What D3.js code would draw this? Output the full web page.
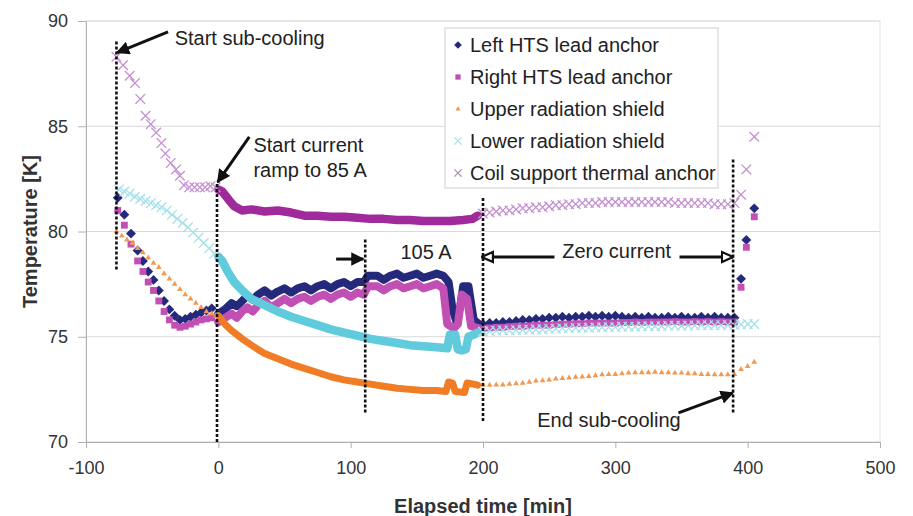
<!DOCTYPE html>
<html>
<head>
<meta charset="utf-8">
<script src="https://cdn.jsdelivr.net/npm/d3@7"></script>
<style>
  body { margin: 0; background: #fff; }
  svg { font-family: "Liberation Sans", Arial, sans-serif; }
  .axis text { font-size: 18px; fill: #333; }
  .axis path, .axis line { stroke: #b0b0b0; }
</style>
</head>
<body>
<svg width="913" height="516"></svg>
<script>
// series names and colours (Excel order)
var seriesNames = ["Left HTS lead anchor", "Right HTS lead anchor", "Upper radiation shield",
                   "Lower radiation shield", "Coil support thermal anchor"];
var seriesColors = ["#25297c", "#c14fb4", "#f07d26", "#5fcbdc", "#a02a9c"];
var lightColors  = ["#25297c", "#c14fb4", "#f39a52", "#a6e1ea", "#c590d0"];

var xTicks = [-100, 0, 100, 200, 300, 400, 500];
var yTicks = [70, 75, 80, 85, 90];

// [time min, temperature K]
// sub-cooling before current (sparse markers)
var leftPre = [[-76,81.6],[-71,80.8],[-66,79.9],[-61,79.1],[-57,78.6],[-53,78.1],[-49,77.7],[-45,77.2],
  [-41,76.7],[-37,76.3],[-33,76.0],[-29,75.8],[-25,75.85],[-21,75.95],[-17,76.05],[-13,76.15],[-9,76.25],[-5,76.35]];
var rightPre = [[-76,81.0],[-71,80.3],[-66,79.4],[-61,78.6],[-57,78.1],[-53,77.6],[-49,77.2],[-45,76.7],
  [-41,76.2],[-37,75.8],[-33,75.55],[-29,75.45],[-25,75.5],[-21,75.6],[-17,75.7],[-13,75.8],[-9,75.85],[-5,75.9]];
var upperPre = [[-77,80.0],[-73,79.8],[-69,79.6],[-65,79.45],[-61,79.2],[-57,79.0],[-53,78.75],[-49,78.5],
  [-45,78.3],[-41,78.0],[-37,77.75],[-33,77.5],[-29,77.25],[-25,77.0],[-21,76.8],[-17,76.6],[-13,76.4],[-9,76.2],[-5,76.1],[-2,76.0]];
var lowerPre = [[-75,82.0],[-71,81.9],[-67,81.8],[-63,81.65],[-59,81.55],[-55,81.45],[-51,81.35],[-47,81.25],
  [-43,81.15],[-39,81.0],[-35,80.8],[-31,80.6],[-27,80.4],[-23,80.2],[-19,79.95],[-15,79.7],[-11,79.45],[-7,79.2],[-3,78.95]];
var coilPre = [[-77,88.3],[-72,87.9],[-67,87.4],[-63,87.05],[-59,86.3],[-55,85.5],[-51,85.1],[-47,84.7],
  [-43,84.2],[-40,83.7],[-36,83.25],[-32,82.95],[-29,82.65],[-26,82.2],[-22,82.1],[-18,82.1],[-14,82.1],
  [-10,82.1],[-6,82.15],[-2,82.1]];

// current ramp period (dense logging)
var leftRamp = [[0,76.1],[5,76.3],[10,76.6],[14,76.45],[18,76.7],[22,76.95],[26,76.75],[30,77.0],[35,77.2],
  [40,76.95],[45,77.15],[50,77.3],[55,77.1],[60,77.3],[65,77.4],[70,77.2],[75,77.4],[80,77.5],[85,77.3],
  [90,77.5],[95,77.6],[100,77.4],[105,77.6],[110,77.6],[113,77.9],[120,77.9],[125,77.7],[130,77.9],
  [135,78.0],[140,77.8],[145,77.9],[150,78.0],[155,77.8],[160,77.9],[165,78.0],[170,77.9],[174,77.6],
  [177,76.3],[180,75.7],[183,76.5],[185,77.4],[189,77.4],[191,76.6],[193,75.8],[197,75.6]];
var rightRamp = [[0,75.7],[5,75.9],[10,76.1],[14,75.9],[18,76.2],[22,76.4],[26,76.2],[30,76.5],[35,76.7],
  [40,76.4],[45,76.6],[50,76.8],[55,76.6],[60,76.8],[65,76.9],[70,76.7],[75,76.9],[80,77.0],[85,76.8],
  [90,77.0],[95,77.1],[100,76.9],[105,77.1],[110,77.0],[113,77.4],[120,77.4],[125,77.2],[130,77.4],
  [135,77.5],[140,77.3],[145,77.4],[150,77.5],[155,77.3],[160,77.4],[165,77.5],[170,77.3],[173,75.6],
  [178,75.4],[181,75.6],[184,77.0],[188,76.8],[191,75.5],[197,75.4]];
var upperRamp = [[0,76.0],[5,75.6],[10,75.3],[18,74.9],[25,74.6],[35,74.2],[45,73.95],[55,73.7],[65,73.5],
  [75,73.3],[85,73.1],[95,72.95],[105,72.85],[115,72.75],[125,72.65],[135,72.55],[145,72.5],[155,72.45],
  [165,72.45],[172,72.4],[174,72.85],[177,72.8],[179,72.4],[186,72.35],[188,72.8],[193,72.75],[196,72.7]];
var lowerRamp = [[0,78.8],[3,78.6],[7,78.1],[12,77.6],[18,77.2],[25,76.8],[35,76.5],[45,76.2],[55,75.95],
  [65,75.75],[75,75.55],[85,75.35],[95,75.2],[105,75.05],[115,74.9],[125,74.8],[135,74.7],[145,74.6],
  [155,74.55],[165,74.5],[173,74.45],[175,75.1],[179,75.1],[181,74.4],[184,74.35],[187,74.4],[189,75.0],
  [193,75.1],[196,75.2]];
var coilRamp = [[0,82.0],[3,81.9],[8,81.5],[12,81.2],[18,81.0],[25,81.05],[35,80.95],[45,81.0],[55,80.9],
  [65,80.75],[75,80.75],[85,80.7],[95,80.7],[105,80.65],[115,80.6],[125,80.6],[135,80.55],[145,80.55],
  [155,80.5],[165,80.5],[175,80.5],[185,80.55],[192,80.6],[196,80.75]];

// zero current and end of sub-cooling (sparse markers)
var leftPost = [[200,75.6],[205,75.65],[210,75.65],[215,75.7],[220,75.7],[225,75.75],[230,75.8],[235,75.8],
  [240,75.85],[245,75.85],[250,75.9],[255,75.9],[260,75.95],[265,75.9],[270,75.95],[275,75.95],[280,76.0],
  [285,75.95],[290,76.0],[295,75.95],[300,76.0],[305,75.95],[310,75.9],[315,75.95],[320,75.9],[325,75.95],
  [330,75.9],[335,75.9],[340,75.95],[345,75.9],[350,75.95],[355,75.9],[360,75.9],[365,75.95],[370,75.9],
  [375,75.95],[380,75.9],[385,75.9],[390,75.9],[395,77.75],[399,79.6],[405,81.1]];
var rightPost = [[200,75.4],[205,75.42],[210,75.45],[215,75.45],[220,75.48],[225,75.5],[230,75.5],[235,75.52],
  [240,75.55],[245,75.55],[250,75.55],[255,75.58],[260,75.6],[265,75.6],[270,75.62],[275,75.62],[280,75.65],
  [285,75.65],[290,75.65],[295,75.65],[300,75.65],[305,75.68],[310,75.68],[315,75.7],[320,75.68],[325,75.7],
  [330,75.7],[335,75.7],[340,75.7],[345,75.72],[350,75.7],[355,75.7],[360,75.72],[365,75.7],[370,75.72],
  [375,75.7],[380,75.72],[385,75.7],[390,75.7],[395,77.35],[399,79.25],[405,80.7]];
var upperPost = [[200,72.7],[205,72.7],[210,72.72],[215,72.72],[220,72.75],[225,72.78],[230,72.8],[235,72.85],
  [240,72.9],[245,72.92],[250,72.95],[255,73.0],[260,73.02],[265,73.05],[270,73.08],[275,73.1],[280,73.12],
  [285,73.15],[290,73.2],[295,73.22],[300,73.22],[305,73.25],[310,73.28],[315,73.3],[320,73.3],[325,73.3],
  [330,73.32],[335,73.3],[340,73.3],[345,73.28],[350,73.28],[355,73.25],[360,73.25],[365,73.22],[370,73.22],
  [375,73.2],[380,73.2],[385,73.2],[390,73.22],[395,73.45],[400,73.6],[405,73.8]];
var lowerPost = [[200,75.25],[205,75.27],[210,75.28],[215,75.3],[220,75.3],[225,75.32],[230,75.33],[235,75.33],
  [240,75.35],[245,75.35],[250,75.37],[255,75.38],[260,75.4],[265,75.4],[270,75.42],[275,75.42],[280,75.43],
  [285,75.44],[290,75.45],[295,75.45],[300,75.46],[305,75.47],[310,75.48],[315,75.48],[320,75.5],[325,75.5],
  [330,75.5],[335,75.5],[340,75.52],[345,75.52],[350,75.52],[355,75.53],[360,75.53],[365,75.55],[370,75.55],
  [375,75.55],[380,75.55],[385,75.56],[390,75.56],[395,75.58],[400,75.6],[405,75.6]];
var coilPost = [[200,80.85],[205,80.9],[210,80.95],[215,81.0],[220,81.0],[225,81.05],[230,81.1],[235,81.1],
  [240,81.15],[245,81.15],[250,81.2],[255,81.25],[260,81.25],[265,81.3],[270,81.3],[275,81.35],[280,81.35],
  [285,81.35],[290,81.4],[295,81.4],[300,81.4],[305,81.4],[310,81.4],[315,81.4],[320,81.4],[325,81.4],
  [330,81.4],[335,81.4],[340,81.4],[345,81.35],[350,81.35],[355,81.35],[360,81.35],[365,81.35],[370,81.35],
  [375,81.3],[380,81.3],[385,81.3],[390,81.35],[395,81.75],[399,82.95],[405,84.5]];

// annotation lines [time, from K, to K]
var eventLines = [[-77, 78.2, 89.1], [-1, 70.0, 82.3], [111, 71.4, 79.7], [200, 71.0, 81.6], [389, 71.4, 83.5]];

var svg = d3.select("svg"),
  margin = {top: 21, right: 33, bottom: 74, left: 86},
  width = svg.attr("width") - margin.left - margin.right,
  height = svg.attr("height") - margin.top - margin.bottom,
  g = svg.append("g").attr("transform", "translate(" + margin.left + "," + margin.top + ")");

var x = d3.scaleLinear().domain([-100, 500]).range([0, width]),
  y = d3.scaleLinear().domain([70, 90]).range([height, 0]);

var defs = svg.append("defs");
defs.append("marker").attr("id", "headFill")
  .attr("viewBox", "0 0 10 10").attr("refX", 9).attr("refY", 5)
  .attr("markerWidth", 4.5).attr("markerHeight", 4.5).attr("orient", "auto")
  .append("path").attr("d", "M0,0L10,5L0,10z").attr("fill", "#111");
defs.append("marker").attr("id", "headOpen")
  .attr("viewBox", "0 0 12 12").attr("refX", 11).attr("refY", 6)
  .attr("markerWidth", 4.5).attr("markerHeight", 4.5).attr("orient", "auto")
  .append("path").attr("d", "M1,1.5L11,6L1,10.5z").attr("fill", "#fff")
  .attr("stroke", "#111").attr("stroke-width", 2);

// gridlines + frame
g.append("g").selectAll("line").data(yTicks).enter().append("line")
  .attr("x1", 0).attr("x2", width)
  .attr("y1", function(d) { return y(d); }).attr("y2", function(d) { return y(d); })
  .attr("stroke", "#d9d9d9");
g.append("rect").attr("width", width).attr("height", height)
  .attr("fill", "none").attr("stroke", "#e2e2e2");

g.append("g")
  .attr("class", "axis axis--x")
  .attr("transform", "translate(0," + height + ")")
  .call(d3.axisBottom(x).tickValues(xTicks).tickSize(6).tickPadding(13)
    .tickFormat(function(d) { return String(d); }));

g.append("g")
  .attr("class", "axis axis--y")
  .call(d3.axisLeft(y).tickValues(yTicks).tickSize(8).tickPadding(10)
    .tickFormat(function(d) { return String(d); }));

svg.append("text")
  .attr("transform", "translate(30," + (margin.top + height / 2) + ") rotate(-90)")
  .attr("text-anchor", "middle").attr("dy", "0.35em")
  .style("font-size", "20px").style("font-weight", "bold").attr("fill", "#333")
  .text("Temperature [K]");

svg.append("text")
  .attr("x", margin.left + x(200)).attr("y", 513)
  .attr("text-anchor", "middle")
  .style("font-size", "20px").style("font-weight", "bold").attr("fill", "#333")
  .text("Elapsed time [min]");

// marker shapes
function markerPath(i, s) {
  var r;
  if (i === 0) { r = s * 0.55; return "M0," + (-r) + "L" + r + ",0L0," + r + "L" + (-r) + ",0Z"; }
  if (i === 1) { r = s * 0.38; return "M" + (-r) + "," + (-r) + "H" + r + "V" + r + "H" + (-r) + "Z"; }
  if (i === 2) return d3.symbol().type(d3.symbolTriangle).size(s * 1.6)();
  r = s * 0.4;
  return "M" + (-r) + "," + (-r) + "L" + r + "," + r + "M" + (-r) + "," + r + "L" + r + "," + (-r);
}

var line = d3.line()
  .x(function(d) { return x(d[0]); })
  .y(function(d) { return y(d[1]); });

var pre = [leftPre, rightPre, upperPre, lowerPre, coilPre],
  ramp = [leftRamp, rightRamp, upperRamp, lowerRamp, coilRamp],
  post = [leftPost, rightPost, upperPost, lowerPost, coilPost];
var rampWidth = [8, 8, 7, 8.5, 8.5];

seriesNames.forEach(function(name, i) {
  var sg = g.append("g").attr("class", "series");

  sg.append("path")
    .attr("d", line(ramp[i]))
    .attr("fill", "none")
    .attr("stroke", seriesColors[i])
    .attr("stroke-width", rampWidth[i])
    .attr("stroke-linejoin", "round")
    .attr("stroke-linecap", "round");

  var pts = pre[i].concat(post[i]);
  var cross = i >= 3;
  sg.selectAll(".pt").data(pts).enter().append("path")
    .attr("transform", function(d) { return "translate(" + x(d[0]) + "," + y(d[1]) + ")"; })
    .attr("d", markerPath(i, cross ? 12 : 9))
    .attr("fill", cross ? "none" : (i === 2 ? lightColors[i] : seriesColors[i]))
    .attr("stroke", cross ? lightColors[i] : "none")
    .attr("stroke-width", 1.3);
});

// event lines
g.append("g").selectAll("line").data(eventLines).enter().append("line")
  .attr("x1", function(d) { return x(d[0]); }).attr("x2", function(d) { return x(d[0]); })
  .attr("y1", function(d) { return y(d[1]); }).attr("y2", function(d) { return y(d[2]); })
  .attr("stroke", "#111").attr("stroke-width", 2.6).attr("stroke-dasharray", "3,2");

// annotations
var annot = g.append("g").style("font-size", "20px").attr("fill", "#222");

function arrow(x1, y1, x2, y2, head) {
  g.append("line")
    .attr("x1", x(x1)).attr("y1", y(y1)).attr("x2", x(x2)).attr("y2", y(y2))
    .attr("stroke", "#111").attr("stroke-width", 3)
    .attr("marker-end", "url(#" + head + ")");
}

annot.append("text").attr("x", x(-33)).attr("y", y(88.86)).text("Start sub-cooling");
arrow(-38, 89.48, -76.5, 88.5, "headFill");

annot.append("text").attr("x", x(26.5)).attr("y", y(83.8)).text("Start current");
annot.append("text").attr("x", x(26.5)).attr("y", y(82.6)).text("ramp to 85 A");
arrow(23.4, 84.5, -0.5, 82.35, "headFill");

annot.append("text").attr("x", x(157)).attr("y", y(78.7)).attr("text-anchor", "middle").text("105 A");
arrow(89, 78.69, 109.6, 78.69, "headFill");

annot.append("text").attr("x", x(301)).attr("y", y(78.72)).attr("text-anchor", "middle").text("Zero current");
arrow(254, 78.79, 199, 78.79, "headOpen");
arrow(348.5, 78.79, 389, 78.79, "headOpen");

annot.append("text").attr("x", x(241)).attr("y", y(70.7)).text("End sub-cooling");
arrow(347.7, 71.38, 388.8, 72.33, "headFill");

// legend
var lg = svg.append("g").attr("transform", "translate(445,28)");
lg.append("rect").attr("width", 273).attr("height", 160)
  .attr("fill", "#fff").attr("stroke", "#cfcfcf");
var rows = lg.selectAll(".row").data(seriesNames).enter().append("g")
  .attr("transform", function(d, i) { return "translate(0," + (17 + i * 32) + ")"; });
rows.append("path")
  .attr("transform", "translate(13,0)")
  .attr("d", function(d, i) { return markerPath(i, i >= 3 ? 9 : 7); })
  .attr("fill", function(d, i) { return i >= 3 ? "none" : lightColors[i]; })
  .attr("stroke", function(d, i) { return i >= 3 ? (i === 3 ? lightColors[i] : "#a98fb0") : "none"; })
  .attr("stroke-width", 1.3);
rows.append("text")
  .attr("x", 25).attr("dy", "0.35em")
  .style("font-size", "20px").attr("fill", "#222")
  .text(function(d) { return d; });
</script>
</body>
</html>
